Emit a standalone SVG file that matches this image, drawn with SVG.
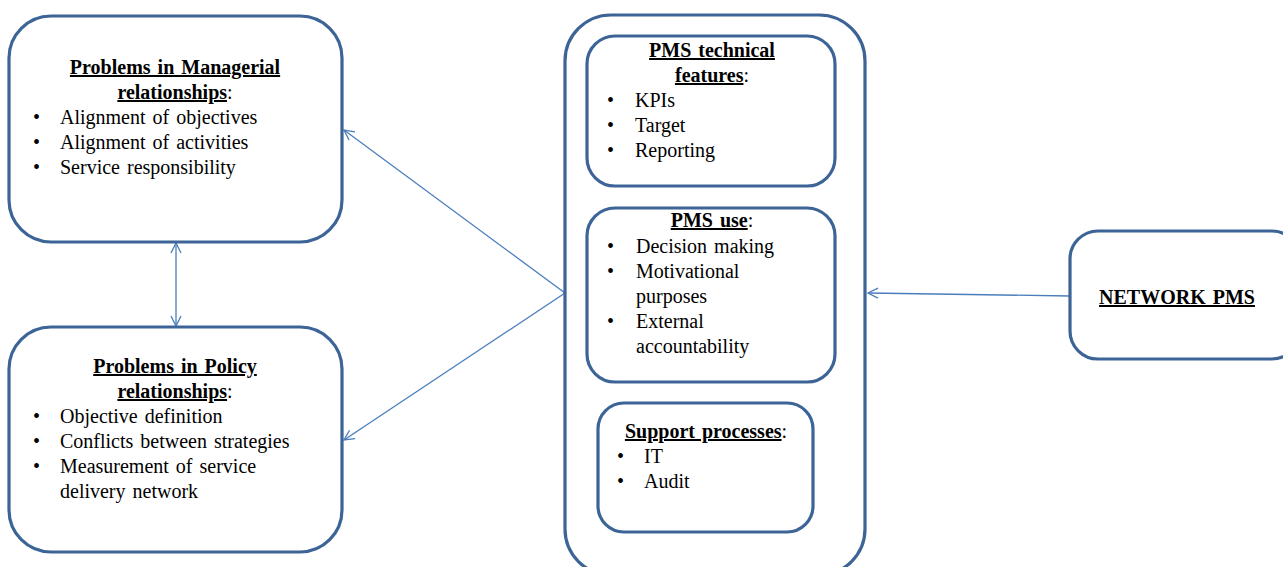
<svg xmlns="http://www.w3.org/2000/svg" width="1283" height="567" viewBox="0 0 1283 567">
  <defs>
    <style>
      .box { fill: #ffffff; stroke: #3C6496; stroke-width: 3.2; }
      .link { stroke: #4A7EBB; stroke-width: 1.3; fill: none; }
      text { font-family: "Liberation Serif", "Times New Roman", serif; font-size: 20px; fill: #000000; word-spacing: 2px; }
      .head { font-weight: bold; }
      .u { text-decoration: underline; }
      .mid { text-anchor: middle; }
    </style>
    <marker id="open" viewBox="0 0 12 12" refX="11" refY="6" markerWidth="12" markerHeight="12" markerUnits="userSpaceOnUse" orient="auto-start-reverse">
      <path d="M1,1 L11,6 L1,11" fill="none" stroke="#4A7EBB" stroke-width="1.3"/>
    </marker>
  </defs>

  <rect width="1283" height="567" fill="#ffffff"/>

  <!-- connectors -->
  <g id="connectors">
    <line class="link" x1="176" y1="243" x2="176" y2="326" marker-start="url(#open)" marker-end="url(#open)"/>
    <line class="link" x1="565" y1="293" x2="344" y2="130" marker-end="url(#open)"/>
    <line class="link" x1="565" y1="293" x2="344" y2="440" marker-end="url(#open)"/>
    <line class="link" x1="1070" y1="296" x2="868" y2="293" marker-end="url(#open)"/>
  </g>

  <!-- managerial relationships -->
  <g id="managerial">
    <rect class="box" x="9" y="16" width="333" height="226" rx="42"/>
    <text class="head mid" x="175" y="74"><tspan class="u">Problems in Managerial</tspan></text>
    <text class="head mid" x="175" y="99"><tspan class="u">relationships</tspan><tspan font-weight="normal">:</tspan></text>
    <text x="33" y="124">•</text><text x="60" y="124">Alignment of objectives</text>
    <text x="33" y="149">•</text><text x="60" y="149">Alignment of activities</text>
    <text x="33" y="174">•</text><text x="60" y="174">Service responsibility</text>
  </g>

  <!-- policy relationships -->
  <g id="policy">
    <rect class="box" x="9" y="327" width="333" height="225" rx="42"/>
    <text class="head mid" x="175" y="373"><tspan class="u">Problems in Policy</tspan></text>
    <text class="head mid" x="175" y="398"><tspan class="u">relationships</tspan><tspan font-weight="normal">:</tspan></text>
    <text x="33" y="423">•</text><text x="60" y="423">Objective definition</text>
    <text x="33" y="448">•</text><text x="60" y="448">Conflicts between strategies</text>
    <text x="33" y="473">•</text><text x="60" y="473">Measurement of service</text>
    <text x="60" y="498">delivery network</text>
  </g>

  <!-- PMS container -->
  <g id="pms">
    <rect class="box" x="565" y="15" width="300" height="560" rx="46"/>
  </g>

  <g id="pms-technical">
    <rect class="box" x="587" y="36" width="248" height="150" rx="28"/>
    <text class="head mid" x="712" y="57"><tspan class="u">PMS technical</tspan></text>
    <text class="head mid" x="712" y="82"><tspan class="u">features</tspan><tspan font-weight="normal">:</tspan></text>
    <text x="607" y="107">•</text><text x="635" y="107">KPIs</text>
    <text x="607" y="132">•</text><text x="635" y="132">Target</text>
    <text x="607" y="157">•</text><text x="635" y="157">Reporting</text>
  </g>

  <g id="pms-use">
    <rect class="box" x="587" y="208" width="248" height="174" rx="28"/>
    <text class="head mid" x="712" y="227"><tspan class="u">PMS use</tspan><tspan font-weight="normal">:</tspan></text>
    <text x="607" y="253">•</text><text x="636" y="253">Decision making</text>
    <text x="607" y="278">•</text><text x="636" y="278">Motivational</text>
    <text x="636" y="303">purposes</text>
    <text x="607" y="328">•</text><text x="636" y="328">External</text>
    <text x="636" y="353">accountability</text>
  </g>

  <g id="support">
    <rect class="box" x="598" y="403" width="215" height="129" rx="26"/>
    <text class="head mid" x="706" y="438"><tspan class="u">Support processes</tspan><tspan font-weight="normal">:</tspan></text>
    <text x="617" y="463">•</text><text x="644" y="463">IT</text>
    <text x="617" y="488">•</text><text x="644" y="488">Audit</text>
  </g>

  <!-- network PMS -->
  <g id="network">
    <rect class="box" x="1070" y="231" width="230" height="128" rx="28"/>
    <text class="head mid u" x="1177" y="304">NETWORK PMS</text>
  </g>
</svg>
